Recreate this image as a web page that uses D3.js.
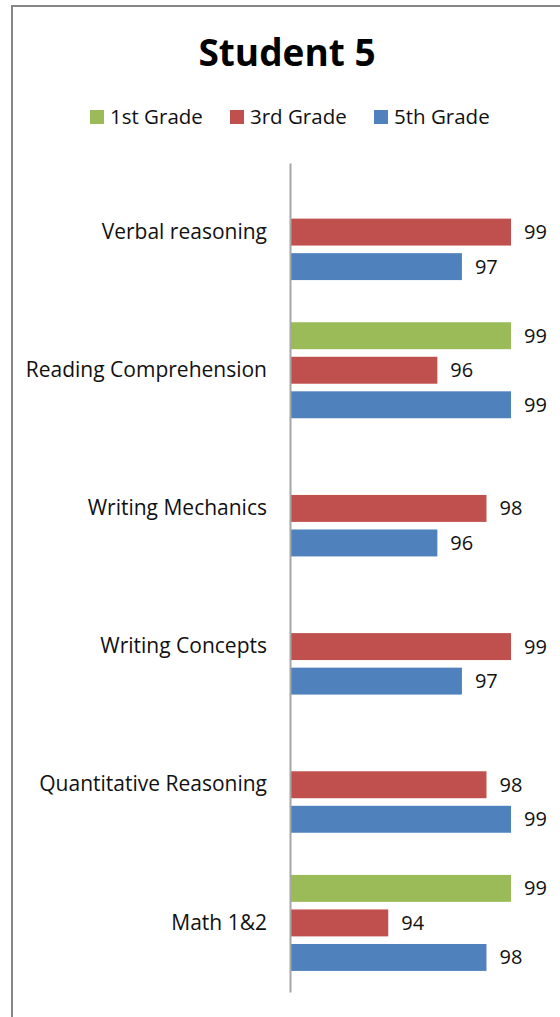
<!DOCTYPE html>
<html>
<head>
<meta charset="utf-8">
<script src="https://cdn.jsdelivr.net/npm/d3@7"></script>
<style>
  body { margin: 0; background: #fff; }
  text { font-family: "Open Sans", "Liberation Sans", sans-serif; fill: #000; }
</style>
</head>
<body>
<div class="chart"></div>
<script>
// student 5 scores per subject
const categories = ["Verbal reasoning", "Reading Comprehension", "Writing Mechanics",
  "Writing Concepts", "Quantitative Reasoning", "Math 1&2"];
const seriesNames = ["1st Grade", "3rd Grade", "5th Grade"];
const seriesColors = ["#9BBB59", "#C0504D", "#4F81BD"];
const grade1 = [null, 99, null, null, null, 99];
const grade3 = [99, 96, 98, 99, 98, 94];
const grade5 = [97, 99, 96, 97, 99, 98];
const xDomain = [90, 100];

let width = 560,
  height = 1017;

let svg = d3.select(".chart").append("svg")
  .attr("width", width)
  .attr("height", height);

// chart frame (runs off the right / bottom edge)
svg.append("rect")
  .attr("x", 12)
  .attr("y", 6)
  .attr("width", 600)
  .attr("height", 1100)
  .attr("fill", "#fff")
  .attr("stroke", "#868686")
  .attr("stroke-width", 2);

svg.append("text")
  .attr("x", 287)
  .attr("y", 66)
  .attr("text-anchor", "middle")
  .style("font-size", "37px")
  .style("font-weight", "bold")
  .text("Student 5");

// legend
let legendX = [90, 230, 374];
let legend = svg.selectAll(".legend")
  .data(seriesNames)
  .enter().append("g")
  .attr("class", "legend")
  .attr("transform", (d, i) => "translate(" + legendX[i] + ",110)");
legend.append("rect")
  .attr("width", 14)
  .attr("height", 14)
  .attr("fill", (d, i) => seriesColors[i]);
legend.append("text")
  .attr("x", 20)
  .attr("y", 14)
  .style("font-size", "20.5px")
  .style("fill", "#111")
  .text(d => d);

let x = d3.scaleLinear().domain(xDomain).range([290, 535.6]);
let y = d3.scaleBand().domain(categories).range([163, 992]);
let bw = y.bandwidth();
let inner = d3.scaleBand()
  .domain(seriesNames)
  .range([bw / 2 - 48, bw / 2 + 48])
  .paddingInner(0.22);

let rows = [grade1, grade3, grade5];
let bars = [];
rows.forEach((vals, s) => {
  vals.forEach((v, i) => {
    if (v != null) bars.push({ cat: categories[i], s: s, v: v });
  });
});

let g = svg.append("g");

g.selectAll(".bar")
  .data(bars)
  .enter().append("rect")
  .attr("class", "bar")
  .attr("x", x(xDomain[0]))
  .attr("y", d => y(d.cat) + inner(seriesNames[d.s]))
  .attr("width", d => x(d.v) - x(xDomain[0]))
  .attr("height", inner.bandwidth())
  .attr("fill", d => seriesColors[d.s]);

g.selectAll(".val")
  .data(bars)
  .enter().append("text")
  .attr("class", "val")
  .attr("x", d => x(d.v) + 13)
  .attr("y", d => y(d.cat) + inner(seriesNames[d.s]) + inner.bandwidth() / 2)
  .attr("dy", "0.35em")
  .style("font-size", "20px")
  .style("fill", "#111")
  .text(d => d.v);

// category axis
let yAxis = d3.axisLeft(y).tickSize(0).tickPadding(23);
let ax = g.append("g")
  .attr("transform", "translate(290,0)")
  .call(yAxis);
ax.select(".domain").attr("stroke", "#A6A6A6").attr("stroke-width", 2);
ax.selectAll("text")
  .style("font-size", "21px")
  .style("fill", "#111")
  .attr("font-family", null);
</script>
</body>
</html>
